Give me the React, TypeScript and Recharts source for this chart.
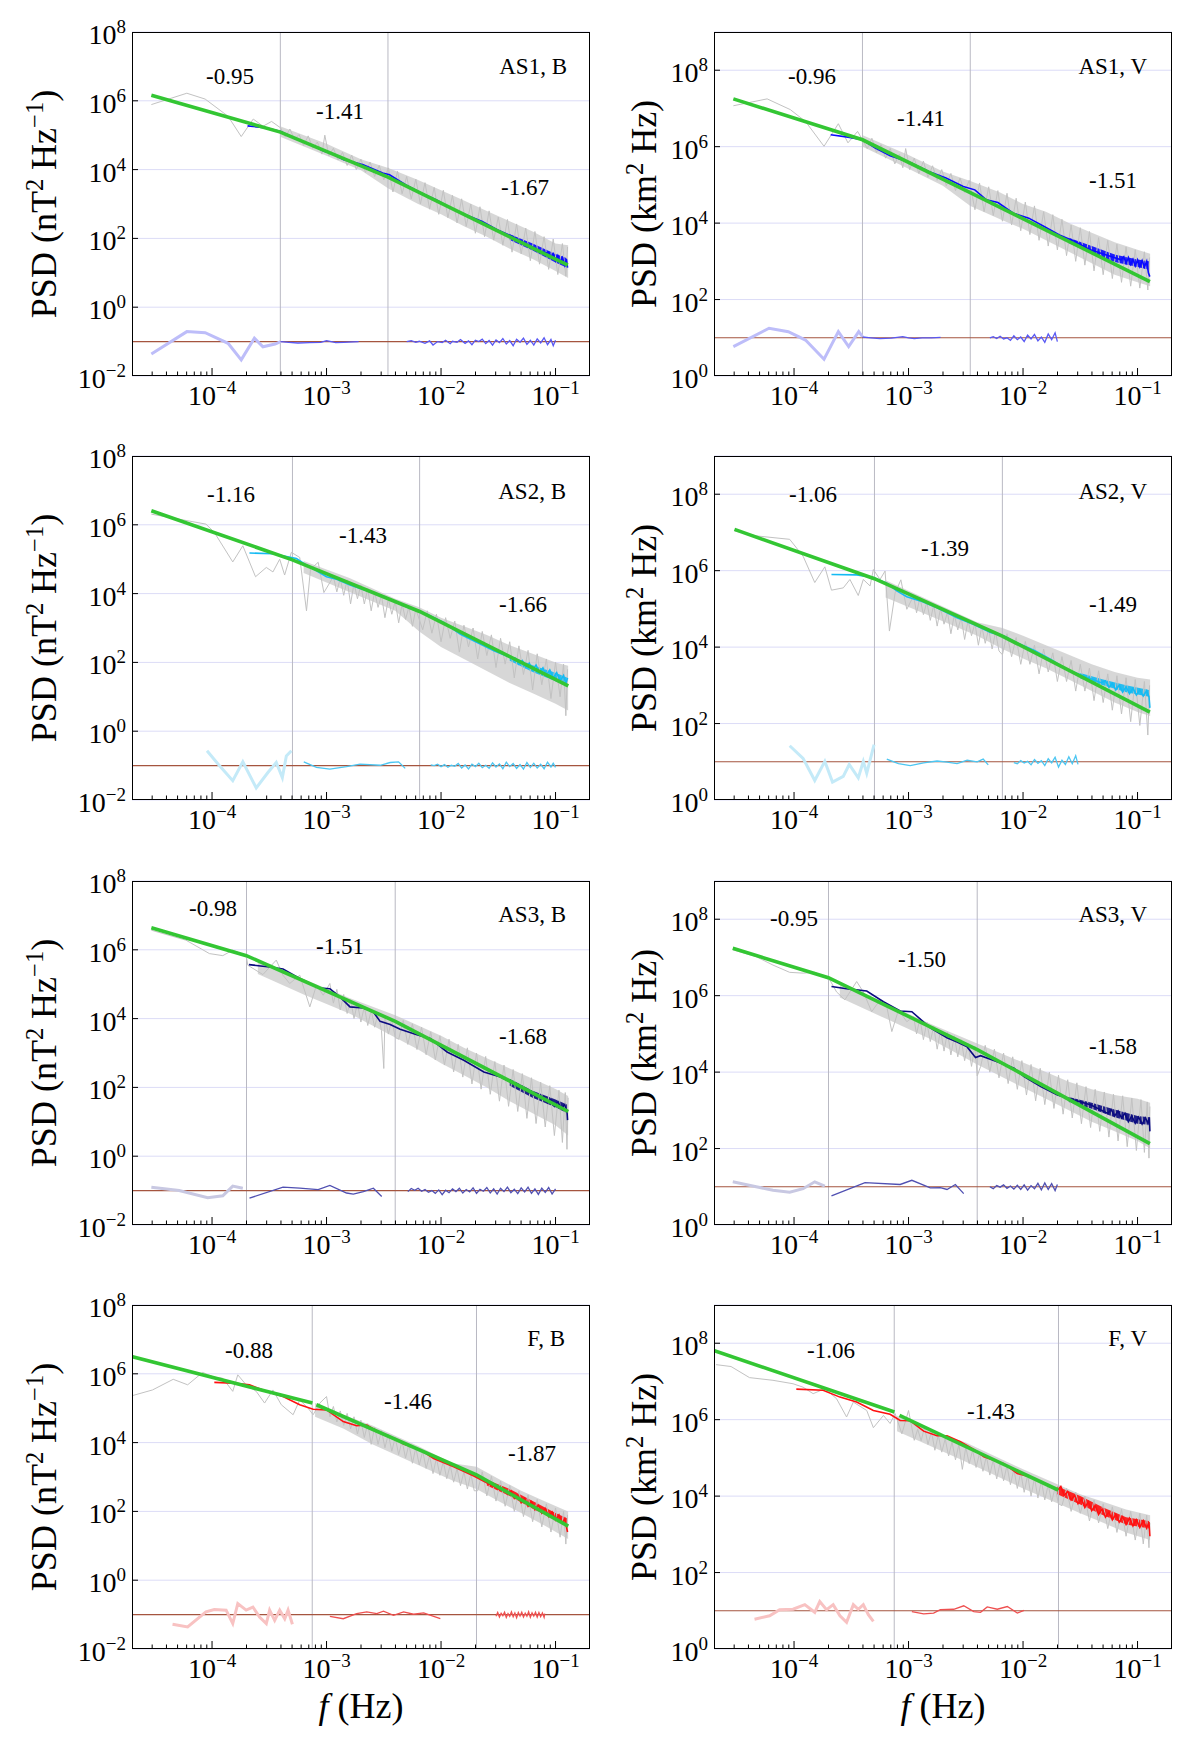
import React from 'react';
import { ComposedChart, Line, Area, XAxis, YAxis, CartesianGrid, ReferenceLine } from 'recharts';

// all series values are decades: [log10 f (Hz), log10 PSD]
type P = [number, number];
type B = [number, number, number]; // [log10 f, log10 low, log10 high]

// ---------- AS1, B ----------
const AS1B_FIT: P[] = [[-4.53, 6.16], [-3.403, 5.09], [-2.463, 3.78], [-0.893, 1.22]];
const AS1B_GRAY: P[] = [
  [-4.53, 5.89], [-4.22, 6.22], [-4.06, 6.05], [-3.86, 5.55], [-3.745, 4.96], [-3.64, 5.47], [-3.555, 5.26], [-3.48, 5.4], [-3.4, 5.21],
  [-3.36, 4.95], [-3.32, 5.18], [-3.28, 4.88], [-3.24, 5.02], [-3.2, 4.7], [-3.16, 4.98], [-3.12, 4.62], [-3.08, 4.8], [-3.04, 4.45],
  [-3.015, 5.0], [-2.98, 4.4], [-2.94, 4.62], [-2.9, 4.28], [-2.86, 4.5], [-2.82, 4.12], [-2.78, 4.42], [-2.74, 4.0], [-2.7, 4.3],
  [-2.66, 3.92], [-2.62, 4.22], [-2.58, 3.8], [-2.54, 4.12], [-2.5, 3.7], [-2.46, 4.05],
  [-2.42, 3.35], [-2.38, 3.95], [-2.34, 3.3], [-2.3, 3.8], [-2.26, 3.15], [-2.22, 3.72], [-2.18, 3.0], [-2.14, 3.62], [-2.1, 2.85],
  [-2.06, 3.48], [-2.02, 2.7], [-1.98, 3.4], [-1.94, 2.6], [-1.9, 3.25], [-1.86, 2.45], [-1.82, 3.15], [-1.78, 2.35], [-1.74, 3.0],
  [-1.7, 2.15], [-1.66, 2.92], [-1.62, 2.05], [-1.58, 2.8], [-1.54, 1.95], [-1.5, 2.62], [-1.46, 1.8], [-1.42, 2.55], [-1.38, 1.6],
  [-1.34, 2.42], [-1.3, 1.55], [-1.26, 2.3], [-1.22, 1.35], [-1.18, 2.2], [-1.14, 1.25], [-1.1, 2.05], [-1.06, 1.1], [-1.02, 1.98],
  [-0.98, 0.95], [-0.94, 1.85], [-0.91, 0.9], [-0.895, 1.75],
];
const AS1B_BAND: B[] = [
  [-3.4, 4.95, 5.25], [-3.0, 4.4, 4.75], [-2.7, 3.98, 4.3], [-2.46, 3.45, 4.05], [-2.2, 3.0, 3.7], [-2.0, 2.7, 3.4], [-1.8, 2.35, 3.1],
  [-1.6, 2.05, 2.8], [-1.4, 1.7, 2.5], [-1.2, 1.4, 2.2], [-1.0, 1.05, 1.85], [-0.89, 0.85, 1.8],
];
const AS1B_LINE: P[] = [
  [-3.69, 5.27], [-3.52, 5.21], [-3.4, 5.11], [-3.25, 4.87], [-3.12, 4.7], [-3.02, 4.53], [-2.95, 4.46], [-2.85, 4.29], [-2.68, 4.14],
  [-2.51, 3.9], [-2.45, 3.85], [-2.31, 3.56], [-2.18, 3.33], [-2.04, 3.12], [-1.91, 2.88], [-1.78, 2.68], [-1.64, 2.49], [-1.51, 2.25],
  [-1.37, 2.05], [-1.24, 1.81], [-1.1, 1.57], [-1.06, 1.6], [-1.04, 1.45], [-1.02, 1.55], [-1.0, 1.35], [-0.98, 1.5], [-0.96, 1.3],
  [-0.94, 1.44], [-0.92, 1.22], [-0.905, 1.4], [-0.895, 1.15],
];
const AS1B_LBAND: B[] = [[-1.4, 1.95, 2.12], [-1.2, 1.65, 1.85], [-1.0, 1.3, 1.55], [-0.9, 1.15, 1.42]];
const AS1B_C1: P[] = [[-4.53, -1.36], [-4.22, -0.71], [-4.06, -0.74], [-3.86, -1.05], [-3.745, -1.53], [-3.63, -0.9], [-3.555, -1.15], [-3.45, -1.07], [-3.4, -1.0]];
const AS1B_C2: P[] = [[-3.4, -1.0], [-3.33, -1.02], [-3.25, -1.04], [-3.15, -1.03], [-3.05, -1.02], [-3.0, -0.97], [-2.96, -1.0], [-2.92, -1.03], [-2.85, -1.02], [-2.72, -1.0]];
const AS1B_C3: P[] = [
  [-2.3, -1.0], [-2.26, -0.97], [-2.22, -1.02], [-2.19, -0.99], [-2.14, -1.05], [-2.1, -0.98], [-2.07, -1.1], [-2.03, -1.0], [-1.99, -1.03],
  [-1.96, -0.96], [-1.92, -1.06], [-1.9, -0.99], [-1.86, -1.02], [-1.83, -0.94], [-1.79, -1.05], [-1.76, -0.98], [-1.73, -1.09], [-1.7, -0.96],
  [-1.67, -1.0], [-1.64, -0.93], [-1.61, -1.06], [-1.58, -0.97], [-1.55, -1.1], [-1.52, -0.95], [-1.49, -1.03], [-1.46, -0.91], [-1.43, -1.07],
  [-1.4, -0.97], [-1.37, -1.12], [-1.34, -0.93], [-1.31, -1.02], [-1.28, -0.9], [-1.25, -1.08], [-1.22, -0.96], [-1.19, -1.1], [-1.16, -0.92],
  [-1.13, -1.04], [-1.1, -0.89], [-1.07, -1.09], [-1.04, -0.94], [-1.02, -1.12], [-1.0, -0.96],
];
const AS1B_BREAKS = [3.95e-4, 3.44e-3];
const AS1B_SLOPES = ['-0.95', '-1.41', '-1.67'];

// ---------- AS1, V ----------
const AS1V_FIT: P[] = [[-4.53, 7.25], [-3.402, 6.18], [-2.461, 4.8], [-0.892, 2.47]];
const AS1V_GRAY: P[] = [
  [-4.53, 7.07], [-4.235, 7.25], [-4.033, 6.97], [-3.9, 6.66], [-3.738, 6.01], [-3.613, 6.6], [-3.529, 6.1], [-3.445, 6.4], [-3.395, 6.14],
  [-3.36, 5.95], [-3.32, 6.22], [-3.28, 5.85], [-3.24, 6.05], [-3.2, 5.7], [-3.16, 5.95], [-3.12, 5.55], [-3.08, 5.8], [-3.05, 5.45],
  [-3.025, 5.95], [-2.99, 5.4], [-2.95, 5.7], [-2.91, 5.3], [-2.87, 5.62], [-2.83, 5.2], [-2.79, 5.5], [-2.75, 5.12], [-2.71, 5.4],
  [-2.67, 4.98], [-2.63, 5.3], [-2.59, 4.85], [-2.55, 5.18], [-2.51, 4.8], [-2.47, 5.12],
  [-2.42, 4.35], [-2.38, 5.05], [-2.34, 4.3], [-2.3, 4.95], [-2.26, 4.2], [-2.22, 4.85], [-2.18, 4.05], [-2.14, 4.78], [-2.1, 3.95],
  [-2.06, 4.65], [-2.02, 3.8], [-1.98, 4.55], [-1.94, 3.7], [-1.9, 4.45], [-1.86, 3.55], [-1.82, 4.3], [-1.78, 3.4], [-1.74, 4.22],
  [-1.7, 3.3], [-1.66, 4.1], [-1.62, 3.15], [-1.58, 3.95], [-1.54, 3.0], [-1.5, 3.88], [-1.46, 2.9], [-1.42, 3.78], [-1.38, 2.75],
  [-1.34, 3.62], [-1.3, 2.65], [-1.26, 3.55], [-1.22, 2.55], [-1.18, 3.45], [-1.14, 2.45], [-1.1, 3.38], [-1.06, 2.35], [-1.02, 3.3],
  [-0.98, 2.3], [-0.94, 3.25], [-0.91, 2.25], [-0.895, 3.1],
];
const AS1V_BAND: B[] = [
  [-3.4, 6.0, 6.3], [-3.0, 5.42, 5.78], [-2.7, 4.98, 5.35], [-2.46, 4.45, 5.1], [-2.2, 4.1, 4.8], [-2.0, 3.85, 4.5], [-1.8, 3.55, 4.3],
  [-1.6, 3.25, 4.0], [-1.4, 2.95, 3.75], [-1.2, 2.65, 3.5], [-1.0, 2.45, 3.3], [-0.89, 2.35, 3.2],
];
const AS1V_LINE: P[] = [
  [-3.68, 6.31], [-3.529, 6.25], [-3.402, 6.18], [-3.294, 5.97], [-3.16, 5.76], [-2.992, 5.59], [-2.824, 5.35], [-2.673, 5.18],
  [-2.522, 4.96], [-2.421, 4.87], [-2.32, 4.61], [-2.219, 4.54], [-2.085, 4.26], [-1.95, 4.13], [-1.816, 3.91], [-1.682, 3.69],
  [-1.548, 3.52], [-1.413, 3.3], [-1.279, 3.17], [-1.144, 3.04], [-1.12, 3.12], [-1.1, 2.95], [-1.08, 3.1], [-1.06, 2.92], [-1.04, 3.05],
  [-1.02, 2.88], [-1.0, 3.04], [-0.98, 2.86], [-0.96, 3.02], [-0.94, 2.85], [-0.92, 3.0], [-0.905, 2.7], [-0.893, 2.6],
];
const AS1V_LBAND: B[] = [[-1.6, 3.48, 3.62], [-1.4, 3.22, 3.4], [-1.2, 2.98, 3.18], [-1.0, 2.85, 3.05], [-0.9, 2.78, 3.0]];
const AS1V_C1: P[] = [[-4.53, 0.77], [-4.218, 1.25], [-4.05, 1.16], [-3.9, 0.94], [-3.738, 0.44], [-3.613, 1.16], [-3.523, 0.77], [-3.435, 1.16], [-3.402, 1.03]];
const AS1V_C2: P[] = [[-3.4, 1.02], [-3.33, 1.0], [-3.25, 0.98], [-3.15, 0.99], [-3.05, 1.03], [-3.0, 1.0], [-2.95, 0.98], [-2.88, 1.0], [-2.8, 1.0], [-2.72, 1.01]];
const AS1V_C3: P[] = [
  [-2.29, 1.0], [-2.26, 1.03], [-2.23, 0.98], [-2.2, 1.04], [-2.17, 0.97], [-2.14, 1.0], [-2.11, 0.93], [-2.08, 1.05], [-2.05, 0.95],
  [-2.02, 1.02], [-1.99, 0.9], [-1.96, 1.07], [-1.93, 0.97], [-1.9, 1.09], [-1.87, 0.92], [-1.84, 1.02], [-1.81, 0.88], [-1.78, 1.1],
  [-1.75, 0.95], [-1.72, 1.13], [-1.7, 0.9],
];
const AS1V_BREAKS = [3.96e-4, 3.46e-3];
const AS1V_SLOPES = ['-0.96', '-1.41', '-1.51'];

// ---------- AS2, B ----------
const AS2B_FIT: P[] = [[-4.53, 6.41], [-3.298, 4.98], [-2.187, 3.48], [-0.889, 1.32]];
const AS2B_GRAY: P[] = [
  [-4.53, 6.31], [-4.053, 6.02], [-3.98, 5.78], [-3.819, 4.92], [-3.731, 5.39], [-3.62, 4.49], [-3.526, 4.76], [-3.468, 4.63], [-3.409, 5.0],
  [-3.366, 4.54], [-3.307, 5.2], [-3.234, 5.05], [-3.175, 3.5], [-3.14, 4.71], [-3.073, 4.91], [-3.023, 4.03], [-2.971, 4.32],
  [-2.94, 4.5], [-2.91, 4.05], [-2.88, 4.45], [-2.85, 3.95], [-2.82, 4.4], [-2.79, 3.7], [-2.76, 4.3], [-2.73, 3.85], [-2.7, 4.25],
  [-2.67, 3.7], [-2.64, 4.15], [-2.61, 3.5], [-2.58, 4.05], [-2.55, 3.6], [-2.52, 3.95], [-2.49, 3.3], [-2.46, 3.85], [-2.43, 3.4],
  [-2.4, 3.78], [-2.37, 3.15], [-2.34, 3.7], [-2.31, 3.25], [-2.28, 3.62], [-2.25, 3.05], [-2.22, 3.55],
  [-2.16, 2.95], [-2.12, 3.5], [-2.08, 2.85], [-2.04, 3.4], [-2.0, 2.6], [-1.96, 3.3], [-1.92, 2.7], [-1.88, 3.2], [-1.84, 2.3],
  [-1.8, 3.08], [-1.76, 2.45], [-1.72, 3.0], [-1.68, 2.1], [-1.64, 2.9], [-1.6, 2.2], [-1.56, 2.8], [-1.52, 1.85], [-1.48, 2.7],
  [-1.44, 1.95], [-1.4, 2.6], [-1.36, 1.55], [-1.32, 2.48], [-1.28, 1.65], [-1.24, 2.35], [-1.2, 1.2], [-1.16, 2.25], [-1.12, 1.35],
  [-1.08, 2.1], [-1.04, 0.95], [-1.0, 2.0], [-0.96, 1.0], [-0.93, 1.95], [-0.91, 0.45], [-0.895, 1.8],
];
const AS2B_BAND: B[] = [
  [-3.2, 4.6, 4.95], [-2.8, 4.05, 4.45], [-2.4, 3.5, 3.85], [-2.19, 2.9, 3.6], [-2.0, 2.45, 3.3], [-1.8, 2.1, 3.05], [-1.6, 1.75, 2.8],
  [-1.4, 1.4, 2.5], [-1.2, 1.1, 2.25], [-1.0, 0.8, 2.0], [-0.89, 0.6, 1.9],
];
const AS2B_LINE: P[] = [
  [-3.673, 5.18], [-3.468, 5.16], [-3.351, 5.08], [-3.263, 5.02], [-3.175, 4.83], [-3.088, 4.66], [-3.0, 4.49], [-2.912, 4.42],
  [-2.795, 4.25], [-2.649, 4.08], [-2.503, 3.92], [-2.357, 3.69], [-2.24, 3.53], [-2.123, 3.4], [-1.977, 3.16], [-1.83, 2.82],
  [-1.684, 2.58], [-1.538, 2.34], [-1.392, 2.14], [-1.35, 2.12], [-1.32, 1.95], [-1.29, 2.05], [-1.26, 1.86], [-1.23, 1.98], [-1.2, 1.78],
  [-1.17, 1.92], [-1.14, 1.7], [-1.11, 1.84], [-1.08, 1.62], [-1.05, 1.78], [-1.02, 1.55], [-0.99, 1.7], [-0.96, 1.46], [-0.93, 1.62],
  [-0.91, 1.38], [-0.895, 1.55],
];
const AS2B_LBAND: B[] = [[-1.4, 2.05, 2.2], [-1.2, 1.72, 1.92], [-1.0, 1.45, 1.7], [-0.9, 1.3, 1.56]];
const AS2B_C1: P[] = [[-4.044, -0.57], [-3.936, -1.0], [-3.819, -1.44], [-3.731, -0.89], [-3.614, -1.65], [-3.512, -1.2], [-3.439, -0.91], [-3.386, -1.35], [-3.351, -0.72], [-3.307, -0.57]];
const AS2B_C2: P[] = [[-3.199, -0.89], [-3.088, -1.05], [-2.971, -1.1], [-2.825, -1.03], [-2.708, -0.96], [-2.532, -0.99], [-2.444, -0.91], [-2.371, -0.89], [-2.313, -1.08]];
const AS2B_C3: P[] = [
  [-2.09, -0.98], [-2.06, -1.0], [-2.03, -0.96], [-2.0, -1.03], [-1.97, -0.97], [-1.94, -1.05], [-1.91, -0.99], [-1.88, -1.02], [-1.85, -0.94],
  [-1.82, -1.07], [-1.79, -0.98], [-1.76, -1.1], [-1.73, -0.96], [-1.7, -1.03], [-1.67, -0.93], [-1.64, -1.06], [-1.61, -0.99], [-1.58, -1.08],
  [-1.55, -0.92], [-1.52, -1.04], [-1.49, -0.95], [-1.46, -1.09], [-1.43, -0.9], [-1.4, -1.03], [-1.37, -0.94], [-1.34, -1.08], [-1.31, -0.97],
  [-1.28, -1.1], [-1.25, -0.91], [-1.22, -1.05], [-1.19, -0.93], [-1.16, -1.07], [-1.13, -0.96], [-1.1, -1.09], [-1.07, -0.9], [-1.04, -1.04],
  [-1.02, -0.93], [-1.0, -1.05],
];
const AS2B_BREAKS = [5.04e-4, 6.5e-3];
const AS2B_SLOPES = ['-1.16', '-1.43', '-1.66'];

// ---------- AS2, V ----------
const AS2V_FIT: P[] = [[-4.52, 7.08], [-3.298, 5.79], [-2.181, 4.29], [-0.892, 2.3]];
const AS2V_GRAY: P[] = [
  [-4.52, 7.04], [-4.33, 6.91], [-4.038, 6.82], [-3.921, 6.38], [-3.819, 5.69], [-3.731, 6.1], [-3.673, 5.49], [-3.57, 5.55], [-3.512, 5.77],
  [-3.439, 5.35], [-3.395, 5.77], [-3.336, 5.6], [-3.307, 6.03], [-3.249, 5.77], [-3.205, 5.99], [-3.167, 4.42], [-3.117, 5.42],
  [-3.067, 5.76], [-3.015, 4.99], [-2.956, 5.34],
  [-2.93, 4.9], [-2.9, 5.3], [-2.87, 4.85], [-2.84, 5.18], [-2.81, 4.7], [-2.78, 5.1], [-2.75, 4.55], [-2.72, 5.02], [-2.69, 4.6],
  [-2.66, 4.92], [-2.63, 4.35], [-2.6, 4.85], [-2.57, 4.45], [-2.54, 4.78], [-2.51, 4.2], [-2.48, 4.7], [-2.45, 4.3], [-2.42, 4.62],
  [-2.39, 4.05], [-2.36, 4.55], [-2.33, 4.1], [-2.3, 4.48], [-2.27, 3.95], [-2.24, 4.4], [-2.21, 3.9],
  [-2.18, 3.8], [-2.14, 4.35], [-2.1, 3.75], [-2.06, 4.25], [-2.02, 3.55], [-1.98, 4.15], [-1.94, 3.55], [-1.9, 4.05], [-1.86, 3.3],
  [-1.82, 3.95], [-1.78, 3.35], [-1.74, 3.85], [-1.7, 3.1], [-1.66, 3.75], [-1.62, 3.1], [-1.58, 3.65], [-1.54, 2.85], [-1.5, 3.55],
  [-1.46, 2.85], [-1.42, 3.45], [-1.38, 2.6], [-1.34, 3.38], [-1.3, 2.55], [-1.26, 3.3], [-1.22, 2.35], [-1.18, 3.25], [-1.14, 2.25],
  [-1.1, 3.2], [-1.06, 2.05], [-1.02, 3.15], [-0.98, 1.95], [-0.94, 3.1], [-0.91, 1.7], [-0.895, 3.0],
];
const AS2V_BAND: B[] = [
  [-3.2, 5.3, 5.75], [-2.8, 4.8, 5.2], [-2.4, 4.3, 4.65], [-2.18, 3.95, 4.5], [-2.0, 3.7, 4.3], [-1.8, 3.45, 4.05], [-1.6, 3.15, 3.8],
  [-1.4, 2.85, 3.55], [-1.2, 2.55, 3.35], [-1.0, 2.3, 3.2], [-0.89, 2.2, 3.15],
];
const AS2V_LINE: P[] = [
  [-3.673, 5.9], [-3.453, 5.89], [-3.307, 5.82], [-3.19, 5.67], [-3.102, 5.47], [-3.015, 5.32], [-2.898, 5.21], [-2.751, 5.03],
  [-2.576, 4.77], [-2.43, 4.59], [-2.284, 4.38], [-2.167, 4.29], [-2.05, 4.11], [-1.904, 3.92], [-1.757, 3.68], [-1.611, 3.41],
  [-1.465, 3.24], [-1.319, 3.07], [-1.28, 3.12], [-1.25, 2.95], [-1.22, 3.05], [-1.19, 2.88], [-1.16, 3.0], [-1.13, 2.82], [-1.1, 2.96],
  [-1.07, 2.78], [-1.04, 2.92], [-1.01, 2.75], [-0.98, 2.88], [-0.95, 2.72], [-0.92, 2.86], [-0.9, 2.7], [-0.892, 2.41],
];
const AS2V_LBAND: B[] = [[-1.5, 3.18, 3.32], [-1.3, 3.0, 3.15], [-1.1, 2.82, 3.0], [-0.9, 2.7, 2.88]];
const AS2V_C1: P[] = [[-4.038, 1.42], [-3.921, 1.09], [-3.819, 0.51], [-3.731, 1.01], [-3.664, 0.47], [-3.57, 0.62], [-3.518, 0.93], [-3.439, 0.58], [-3.395, 1.01], [-3.365, 0.7], [-3.301, 1.45]];
const AS2V_C2: P[] = [[-3.19, 1.07], [-3.088, 0.95], [-2.985, 0.9], [-2.868, 0.97], [-2.751, 1.02], [-2.664, 0.99], [-2.576, 0.95], [-2.488, 1.04], [-2.401, 1.0], [-2.348, 1.07], [-2.304, 0.92]];
const AS2V_C3: P[] = [
  [-2.08, 0.98], [-2.05, 0.95], [-2.02, 1.03], [-1.99, 0.97], [-1.96, 1.01], [-1.93, 0.92], [-1.9, 1.06], [-1.87, 0.96], [-1.84, 1.03],
  [-1.81, 0.9], [-1.78, 1.08], [-1.75, 0.97], [-1.72, 1.12], [-1.69, 0.86], [-1.66, 1.04], [-1.63, 0.93], [-1.6, 1.13], [-1.57, 0.95],
  [-1.54, 1.16], [-1.52, 0.93],
];
const AS2V_BREAKS = [5.04e-4, 6.6e-3];
const AS2V_SLOPES = ['-1.06', '-1.39', '-1.49'];

// ---------- AS3, B ----------
const AS3B_FIT: P[] = [[-4.53, 6.64], [-3.7, 5.83], [-2.4, 3.92], [-0.889, 1.3]];
const AS3B_GRAY: P[] = [
  [-4.53, 6.57], [-4.228, 6.28], [-4.023, 5.89], [-3.906, 5.83], [-3.819, 5.99], [-3.702, 5.83], [-3.687, 5.55], [-3.556, 5.28],
  [-3.439, 5.7], [-3.38, 5.26], [-3.322, 5.02], [-3.234, 5.26], [-3.146, 4.34], [-3.088, 4.97], [-3.029, 4.68], [-2.971, 5.02],
  [-2.94, 4.45], [-2.91, 4.85], [-2.88, 4.25], [-2.85, 4.7], [-2.82, 4.15], [-2.79, 4.55], [-2.76, 4.0], [-2.73, 4.45], [-2.7, 3.9],
  [-2.67, 4.35], [-2.64, 3.8], [-2.61, 4.25], [-2.58, 3.75], [-2.55, 4.15], [-2.52, 3.65], [-2.5, 2.55], [-2.49, 4.05], [-2.46, 3.55],
  [-2.43, 3.98], [-2.4, 3.45],
  [-2.37, 3.4], [-2.33, 3.95], [-2.29, 3.25], [-2.25, 3.85], [-2.21, 3.1], [-2.17, 3.75], [-2.13, 2.95], [-2.09, 3.62], [-2.05, 2.8],
  [-2.01, 3.5], [-1.97, 2.65], [-1.93, 3.4], [-1.89, 2.45], [-1.85, 3.25], [-1.81, 2.3], [-1.77, 3.15], [-1.73, 2.1], [-1.69, 3.0],
  [-1.65, 1.95], [-1.61, 2.9], [-1.57, 1.8], [-1.53, 2.75], [-1.49, 1.6], [-1.45, 2.65], [-1.41, 1.45], [-1.37, 2.52], [-1.33, 1.3],
  [-1.29, 2.4], [-1.25, 1.1], [-1.21, 2.28], [-1.17, 0.95], [-1.13, 2.15], [-1.09, 0.85], [-1.05, 2.05], [-1.01, 0.6], [-0.97, 1.92],
  [-0.94, 0.4], [-0.915, 1.85], [-0.9, 0.2], [-0.89, 1.7],
];
const AS3B_BAND: B[] = [
  [-3.6, 5.3, 5.7], [-3.2, 4.7, 5.15], [-2.8, 4.15, 4.6], [-2.4, 3.45, 4.1], [-2.2, 3.1, 3.8], [-2.0, 2.7, 3.5], [-1.8, 2.35, 3.15],
  [-1.6, 2.0, 2.85], [-1.4, 1.6, 2.55], [-1.2, 1.25, 2.25], [-1.0, 0.9, 1.95], [-0.89, 0.6, 1.75],
];
const AS3B_LINE: P[] = [
  [-3.678, 5.57], [-3.497, 5.5], [-3.38, 5.44], [-3.234, 5.17], [-3.058, 4.89], [-2.971, 4.87], [-2.883, 4.63], [-2.795, 4.34],
  [-2.678, 4.31], [-2.591, 4.19], [-2.532, 3.92], [-2.444, 3.83], [-2.357, 3.69], [-2.211, 3.53], [-2.094, 3.42], [-1.947, 3.03],
  [-1.801, 2.79], [-1.626, 2.45], [-1.48, 2.3], [-1.333, 2.06], [-1.187, 1.77], [-1.1, 1.72], [-1.07, 1.55], [-1.04, 1.66], [-1.01, 1.45],
  [-0.98, 1.58], [-0.95, 1.38], [-0.92, 1.5], [-0.9, 1.3], [-0.895, 1.05],
];
const AS3B_LBAND: B[] = [[-1.4, 2.05, 2.25], [-1.2, 1.7, 1.9], [-1.0, 1.42, 1.65], [-0.9, 1.25, 1.5]];
const AS3B_C1: P[] = [[-4.53, -0.9], [-4.287, -1.0], [-4.038, -1.21], [-3.906, -1.15], [-3.819, -0.87], [-3.731, -0.93]];
const AS3B_C2: P[] = [[-3.673, -1.22], [-3.38, -0.9], [-3.234, -0.93], [-3.073, -0.97], [-2.971, -0.85], [-2.825, -1.07], [-2.766, -1.1], [-2.678, -1.03], [-2.591, -0.93], [-2.518, -1.17]];
const AS3B_C3: P[] = [
  [-2.29, -1.03], [-2.26, -0.94], [-2.23, -0.99], [-2.2, -0.93], [-2.17, -1.02], [-2.14, -0.97], [-2.11, -1.05], [-2.08, -1.0], [-2.05, -1.08],
  [-2.02, -0.98], [-1.99, -1.12], [-1.96, -0.99], [-1.93, -1.06], [-1.9, -0.95], [-1.87, -1.03], [-1.84, -0.93], [-1.81, -1.07], [-1.78, -0.97],
  [-1.75, -1.04], [-1.72, -0.92], [-1.69, -1.08], [-1.66, -0.96], [-1.63, -1.02], [-1.6, -0.91], [-1.57, -1.07], [-1.54, -0.95], [-1.51, -1.1],
  [-1.48, -0.93], [-1.45, -1.03], [-1.42, -0.9], [-1.39, -1.06], [-1.36, -0.96], [-1.33, -1.09], [-1.3, -0.92], [-1.27, -1.04], [-1.24, -0.9],
  [-1.21, -1.08], [-1.18, -0.95], [-1.15, -1.11], [-1.12, -0.93], [-1.09, -1.05], [-1.06, -0.91], [-1.03, -1.1], [-1.0, -0.95],
];
const AS3B_BREAKS = [2.0e-4, 3.98e-3];
const AS3B_SLOPES = ['-0.98', '-1.51', '-1.68'];

// ---------- AS3, V ----------
const AS3V_FIT: P[] = [[-4.535, 7.24], [-3.7, 6.47], [-2.4, 4.59], [-0.892, 2.13]];
const AS3V_GRAY: P[] = [
  [-4.535, 7.2], [-4.33, 7.02], [-4.184, 6.8], [-4.038, 6.61], [-3.921, 6.59], [-3.819, 6.61], [-3.746, 6.5], [-3.687, 6.41],
  [-3.629, 6.1], [-3.556, 5.89], [-3.453, 6.37], [-3.395, 6.1], [-3.322, 5.58], [-3.249, 5.89], [-3.19, 5.71], [-3.146, 5.06],
  [-3.088, 5.62], [-3.015, 5.32], [-2.956, 5.45],
  [-2.93, 5.0], [-2.9, 5.4], [-2.87, 4.85], [-2.84, 5.3], [-2.81, 4.8], [-2.78, 5.2], [-2.75, 4.6], [-2.72, 5.1], [-2.69, 4.55],
  [-2.66, 5.05], [-2.63, 4.45], [-2.6, 4.95], [-2.57, 4.4], [-2.54, 4.85], [-2.51, 4.3], [-2.48, 4.75], [-2.45, 4.15], [-2.42, 4.68],
  [-2.4, 3.9],
  [-2.37, 4.15], [-2.33, 4.7], [-2.29, 4.0], [-2.25, 4.6], [-2.21, 3.85], [-2.17, 4.5], [-2.13, 3.7], [-2.09, 4.4], [-2.05, 3.55],
  [-2.01, 4.3], [-1.97, 3.4], [-1.93, 4.2], [-1.89, 3.25], [-1.85, 4.1], [-1.81, 3.15], [-1.77, 4.0], [-1.73, 3.05], [-1.69, 3.92],
  [-1.65, 2.9], [-1.61, 3.8], [-1.57, 2.8], [-1.53, 3.72], [-1.49, 2.65], [-1.45, 3.62], [-1.41, 2.55], [-1.37, 3.55], [-1.33, 2.45],
  [-1.29, 3.48], [-1.25, 2.3], [-1.21, 3.42], [-1.17, 2.2], [-1.13, 3.38], [-1.09, 2.05], [-1.05, 3.32], [-1.01, 1.95], [-0.97, 3.28],
  [-0.94, 1.9], [-0.915, 3.22], [-0.9, 1.75], [-0.892, 3.1],
];
const AS3V_BAND: B[] = [
  [-3.6, 5.95, 6.35], [-3.2, 5.4, 5.8], [-2.8, 4.85, 5.25], [-2.4, 4.2, 4.75], [-2.2, 3.9, 4.5], [-2.0, 3.6, 4.25], [-1.8, 3.3, 4.0],
  [-1.6, 3.0, 3.75], [-1.4, 2.7, 3.55], [-1.2, 2.45, 3.4], [-1.0, 2.2, 3.3], [-0.89, 2.0, 3.2],
];
const AS3V_LINE: P[] = [
  [-3.673, 6.24], [-3.512, 6.17], [-3.365, 6.12], [-3.219, 5.84], [-3.073, 5.6], [-2.971, 5.58], [-2.81, 5.16], [-2.664, 4.9],
  [-2.576, 4.79], [-2.488, 4.66], [-2.415, 4.38], [-2.371, 4.43], [-2.225, 4.27], [-2.079, 4.1], [-1.991, 3.88], [-1.845, 3.62],
  [-1.699, 3.4], [-1.553, 3.27], [-1.406, 3.14], [-1.26, 2.92], [-1.23, 3.02], [-1.2, 2.85], [-1.17, 2.98], [-1.14, 2.8], [-1.11, 2.92],
  [-1.08, 2.7], [-1.05, 2.85], [-1.02, 2.66], [-0.99, 2.82], [-0.96, 2.64], [-0.93, 2.8], [-0.91, 2.66], [-0.897, 2.82], [-0.892, 2.45],
];
const AS3V_LBAND: B[] = [[-1.6, 3.22, 3.35], [-1.4, 3.04, 3.2], [-1.2, 2.82, 3.02], [-1.0, 2.65, 2.85], [-0.9, 2.62, 2.82]];
const AS3V_C1: P[] = [[-4.535, 1.13], [-4.33, 1.0], [-4.184, 0.91], [-4.038, 0.86], [-3.921, 0.95], [-3.819, 1.13], [-3.731, 1.02]];
const AS3V_C2: P[] = [[-3.673, 0.76], [-3.38, 1.11], [-3.073, 1.06], [-2.971, 1.17], [-2.81, 0.97], [-2.722, 0.98], [-2.664, 0.93], [-2.591, 1.06], [-2.518, 0.82]];
const AS3V_C3: P[] = [
  [-2.29, 1.0], [-2.26, 0.95], [-2.23, 1.03], [-2.2, 0.99], [-2.17, 1.05], [-2.14, 0.96], [-2.11, 1.02], [-2.08, 0.94], [-2.05, 1.04],
  [-2.02, 0.93], [-1.99, 1.05], [-1.96, 0.91], [-1.93, 1.03], [-1.9, 0.95], [-1.87, 1.09], [-1.84, 0.92], [-1.81, 1.1], [-1.78, 0.93],
  [-1.75, 1.08], [-1.72, 0.9], [-1.7, 1.06],
];
const AS3V_BREAKS = [2.0e-4, 3.98e-3];
const AS3V_SLOPES = ['-0.95', '-1.50', '-1.58'];

// ---------- F, B ----------
const FB_FIT1: P[] = [[-4.702, 6.5], [-3.123, 5.15]];
const FB_FIT2: P[] = [[-3.088, 5.1], [-1.69, 3.06], [-0.889, 1.57]];
const FB_GRAY: P[] = [
  [-4.702, 5.36], [-4.52, 5.53], [-4.339, 5.84], [-4.213, 5.68], [-4.082, 6.04], [-3.98, 5.9], [-3.906, 5.87], [-3.819, 5.49],
  [-3.775, 5.97], [-3.702, 5.68], [-3.614, 5.49], [-3.541, 5.15], [-3.468, 5.53], [-3.395, 5.1], [-3.292, 4.81], [-3.234, 5.24],
  [-3.161, 5.0], [-3.117, 4.81], [-3.058, 5.15], [-3.0, 5.34],
  [-2.97, 4.75], [-2.94, 5.05], [-2.91, 4.6], [-2.88, 4.92], [-2.85, 4.5], [-2.82, 4.85], [-2.79, 4.4], [-2.76, 4.75], [-2.73, 4.25],
  [-2.7, 4.65], [-2.67, 4.15], [-2.64, 4.55], [-2.61, 3.95], [-2.58, 4.45], [-2.55, 3.95], [-2.52, 4.35], [-2.49, 3.85], [-2.46, 4.25],
  [-2.43, 3.75], [-2.4, 4.15], [-2.37, 3.65], [-2.34, 4.05], [-2.31, 3.55], [-2.28, 3.95], [-2.25, 3.4], [-2.22, 3.85], [-2.19, 3.35],
  [-2.16, 3.75], [-2.13, 3.25], [-2.1, 3.62], [-2.07, 3.1], [-2.04, 3.55], [-2.01, 3.05], [-1.98, 3.45], [-1.95, 2.95], [-1.92, 3.35],
  [-1.89, 2.85], [-1.86, 3.25], [-1.83, 2.75], [-1.8, 3.15], [-1.77, 2.65], [-1.74, 3.1], [-1.71, 2.6],
  [-1.68, 2.6], [-1.64, 3.15], [-1.6, 2.45], [-1.56, 3.02], [-1.52, 2.3], [-1.48, 2.88], [-1.44, 2.15], [-1.4, 2.75], [-1.36, 2.0],
  [-1.32, 2.6], [-1.28, 1.85], [-1.24, 2.48], [-1.2, 1.7], [-1.16, 2.35], [-1.12, 1.55], [-1.08, 2.22], [-1.04, 1.4], [-1.0, 2.1],
  [-0.96, 1.25], [-0.93, 2.0], [-0.91, 1.05], [-0.895, 1.9],
];
const FB_BAND: B[] = [
  [-3.1, 4.75, 5.15], [-2.85, 4.4, 4.8], [-2.6, 3.95, 4.5], [-2.2, 3.35, 3.9], [-1.9, 2.9, 3.4], [-1.69, 2.65, 3.3], [-1.5, 2.3, 2.95],
  [-1.3, 1.95, 2.6], [-1.1, 1.6, 2.3], [-0.89, 1.2, 2.0],
];
const FB_LINE: P[] = [
  [-3.98, 5.75], [-3.819, 5.73], [-3.673, 5.68], [-3.526, 5.49], [-3.38, 5.34], [-3.234, 5.1], [-3.117, 4.97], [-3.0, 4.95],
  [-2.854, 4.61], [-2.737, 4.49], [-2.649, 4.51], [-2.532, 4.29], [-2.415, 4.13], [-2.327, 3.96], [-2.181, 3.79], [-2.064, 3.54],
  [-1.889, 3.3], [-1.713, 3.03], [-1.48, 2.62], [-1.45, 2.68], [-1.42, 2.5], [-1.39, 2.6], [-1.36, 2.38], [-1.33, 2.48], [-1.3, 2.25],
  [-1.27, 2.38], [-1.24, 2.15], [-1.21, 2.28], [-1.18, 2.05], [-1.15, 2.18], [-1.12, 1.95], [-1.09, 2.08], [-1.06, 1.85], [-1.03, 1.98],
  [-1.0, 1.75], [-0.97, 1.9], [-0.94, 1.65], [-0.92, 1.78], [-0.895, 1.4],
];
const FB_LBAND: B[] = [[-1.6, 2.75, 2.92], [-1.4, 2.45, 2.65], [-1.2, 2.08, 2.3], [-1.0, 1.75, 1.95], [-0.9, 1.6, 1.8]];
const FB_C1: P[] = [
  [-4.345, -1.28], [-4.213, -1.36], [-4.053, -0.92], [-3.98, -0.85], [-3.877, -0.87], [-3.819, -1.26], [-3.775, -0.68], [-3.702, -0.87],
  [-3.643, -0.78], [-3.585, -1.07], [-3.526, -1.26], [-3.497, -0.87], [-3.453, -1.17], [-3.409, -0.87], [-3.365, -1.12], [-3.336, -0.87], [-3.298, -1.28],
];
const FB_C2: P[] = [[-2.971, -1.05], [-2.854, -1.12], [-2.737, -0.97], [-2.649, -0.92], [-2.561, -0.97], [-2.503, -0.9], [-2.415, -1.02], [-2.327, -0.92], [-2.24, -0.99], [-2.152, -0.95], [-2.064, -1.05], [-2.006, -1.12]];
const FB_C3: P[] = [
  [-1.52, -1.05], [-1.505, -0.94], [-1.49, -1.07], [-1.475, -0.96], [-1.46, -1.03], [-1.445, -0.93], [-1.43, -1.08], [-1.415, -0.97],
  [-1.4, -1.05], [-1.385, -0.92], [-1.37, -1.06], [-1.355, -0.95], [-1.34, -1.09], [-1.325, -0.94], [-1.31, -1.04], [-1.295, -0.93],
  [-1.28, -1.07], [-1.265, -0.96], [-1.25, -1.05], [-1.235, -0.92], [-1.22, -1.08], [-1.205, -0.95], [-1.19, -1.04], [-1.175, -0.93],
  [-1.16, -1.07], [-1.145, -0.94], [-1.13, -1.06], [-1.115, -0.95], [-1.1, -1.08], [-1.094, -0.97],
];
const FB_BREAKS = [7.5e-4, 2.04e-2];
const FB_SLOPES = ['-0.88', '-1.46', '-1.87'];

// ---------- F, V ----------
const FV_FIT1: P[] = [[-4.702, 7.81], [-3.123, 6.2]];
const FV_FIT2: P[] = [[-3.079, 6.11], [-1.693, 4.16]];
const FV_GRAY: P[] = [
  [-4.681, 7.44], [-4.55, 7.39], [-4.389, 7.1], [-4.184, 7.03], [-4.009, 6.94], [-3.921, 6.85], [-3.833, 6.68], [-3.731, 6.81],
  [-3.629, 6.55], [-3.541, 6.07], [-3.482, 6.46], [-3.365, 6.24], [-3.307, 5.79], [-3.219, 6.11], [-3.161, 5.9], [-3.117, 6.16],
  [-3.058, 5.63], [-3.0, 6.24], [-2.95, 5.46],
  [-2.92, 5.75], [-2.89, 5.45], [-2.86, 5.8], [-2.83, 5.35], [-2.8, 5.7], [-2.77, 5.2], [-2.74, 5.6], [-2.71, 5.15], [-2.68, 5.5],
  [-2.65, 5.05], [-2.62, 5.42], [-2.59, 4.95], [-2.56, 5.35], [-2.53, 4.7], [-2.5, 5.28], [-2.47, 4.85], [-2.44, 5.2], [-2.41, 4.75],
  [-2.38, 5.12], [-2.35, 4.65], [-2.32, 5.05], [-2.29, 4.55], [-2.26, 4.95], [-2.23, 4.45], [-2.2, 4.88], [-2.17, 4.4], [-2.14, 4.8],
  [-2.11, 4.3], [-2.08, 4.7], [-2.05, 4.2], [-2.02, 4.62], [-1.99, 4.1], [-1.96, 4.55], [-1.93, 4.0], [-1.9, 4.48], [-1.87, 3.95],
  [-1.84, 4.4], [-1.81, 3.9], [-1.78, 4.3], [-1.75, 3.85], [-1.72, 4.22], [-1.69, 3.8],
  [-1.66, 3.75], [-1.62, 4.2], [-1.58, 3.6], [-1.54, 4.1], [-1.5, 3.55], [-1.46, 4.0], [-1.42, 3.35], [-1.38, 3.9], [-1.34, 3.3],
  [-1.3, 3.8], [-1.26, 3.15], [-1.22, 3.72], [-1.18, 3.05], [-1.14, 3.65], [-1.1, 2.95], [-1.06, 3.6], [-1.02, 2.85], [-0.98, 3.55],
  [-0.95, 2.75], [-0.92, 3.5], [-0.9, 2.65], [-0.892, 3.3],
];
const FV_BAND: B[] = [
  [-3.1, 5.7, 6.1], [-2.8, 5.3, 5.7], [-2.5, 4.9, 5.4], [-2.0, 4.2, 4.7], [-1.69, 3.8, 4.3], [-1.5, 3.55, 4.05], [-1.3, 3.3, 3.85],
  [-1.1, 3.05, 3.65], [-0.89, 2.85, 3.5],
];
const FV_LINE: P[] = [
  [-3.98, 6.8], [-3.746, 6.77], [-3.599, 6.59], [-3.453, 6.46], [-3.307, 6.24], [-3.161, 6.14], [-3.073, 5.98], [-2.985, 5.97],
  [-2.868, 5.7], [-2.751, 5.58], [-2.664, 5.58], [-2.547, 5.42], [-2.43, 5.22], [-2.342, 5.03], [-2.167, 4.85], [-2.05, 4.59],
  [-1.933, 4.5], [-1.816, 4.33], [-1.699, 4.16], [-1.67, 4.25], [-1.64, 4.02], [-1.61, 4.12], [-1.58, 3.9], [-1.55, 4.02], [-1.52, 3.8],
  [-1.49, 3.92], [-1.46, 3.7], [-1.43, 3.85], [-1.4, 3.62], [-1.37, 3.75], [-1.34, 3.52], [-1.31, 3.66], [-1.28, 3.45], [-1.25, 3.58],
  [-1.22, 3.38], [-1.19, 3.52], [-1.16, 3.32], [-1.13, 3.46], [-1.1, 3.26], [-1.07, 3.42], [-1.04, 3.22], [-1.01, 3.38], [-0.98, 3.18],
  [-0.95, 3.36], [-0.92, 3.16], [-0.9, 3.32], [-0.892, 2.95],
];
const FV_LBAND: B[] = [[-1.7, 4.05, 4.25], [-1.5, 3.78, 4.0], [-1.3, 3.5, 3.7], [-1.1, 3.26, 3.45], [-0.9, 3.15, 3.35]];
const FV_C1: P[] = [
  [-4.345, 0.78], [-4.213, 0.87], [-4.126, 1.03], [-4.009, 1.04], [-3.906, 1.16], [-3.819, 0.96], [-3.775, 1.24], [-3.716, 1.03],
  [-3.658, 1.16], [-3.599, 0.87], [-3.541, 0.7], [-3.482, 1.16], [-3.439, 1.04], [-3.395, 1.16], [-3.351, 0.9], [-3.307, 0.72],
];
const FV_C2: P[] = [[-2.971, 0.98], [-2.868, 0.92], [-2.781, 0.94], [-2.722, 1.03], [-2.605, 1.04], [-2.518, 1.13], [-2.43, 0.98], [-2.371, 0.96], [-2.313, 1.1], [-2.225, 1.04], [-2.137, 1.11], [-2.05, 0.94], [-1.991, 1.01]];
const FV_BREAKS = [7.5e-4, 2.04e-2];
const FV_SLOPES = ['-1.06', '-1.43'];

// axis ticks
const X_MAJOR = [1e-4, 1e-3, 1e-2, 1e-1];
const X_MINOR = [
  3e-5, 4e-5, 5e-5, 6e-5, 7e-5, 8e-5, 9e-5, 2e-4, 3e-4, 4e-4, 5e-4, 6e-4, 7e-4, 8e-4, 9e-4,
  2e-3, 3e-3, 4e-3, 5e-3, 6e-3, 7e-3, 8e-3, 9e-3, 2e-2, 3e-2, 4e-2, 5e-2, 6e-2, 7e-2, 8e-2, 9e-2,
];
const Y_TICKS_B = [1e-2, 1, 1e2, 1e4, 1e6, 1e8];
const Y_TICKS_V = [1, 1e2, 1e4, 1e6, 1e8];

const COLORS = {
  AS1: { main: '#0a0aff', light: '#bdbdf9', mid: '#5858f4' },
  AS2: { main: '#14baf3', light: '#c4eaf8', mid: '#4cc6f2' },
  AS3: { main: '#0b0b80', light: '#c8c8e2', mid: '#5050b2' },
  F: { main: '#ff1010', light: '#f8c2c2', mid: '#ee5050' },
};

// layout
const FONT = '"Liberation Serif", "DejaVu Serif", serif';
const COL_X = [132, 714];
const ROW_Y = [32, 456, 881, 1305];
const PW = 458;
const PH = 344;
const YW = 80;
const MT = 30;
const MR = 10;
const XH = 50;

const pts = (a: P[]) => a.map(([lf, lp]) => ({ f: 10 ** lf, p: 10 ** lp }));
const bandPts = (a: B[]) => a.map(([lf, lo, hi]) => ({ f: 10 ** lf, band: [10 ** lo, 10 ** hi] }));

const PANELS = [
  { row: 0, col: 0, kind: 'B', tag: 'AS1, B', c: COLORS.AS1, fit: [AS1B_FIT], gray: AS1B_GRAY, band: AS1B_BAND, line: AS1B_LINE, lband: AS1B_LBAND, comp: [AS1B_C1, AS1B_C2, AS1B_C3], breaks: AS1B_BREAKS, slopes: AS1B_SLOPES, pos: [[98, 44], [208, 79], [393, 155]], tagPos: [435, 34] },
  { row: 0, col: 1, kind: 'V', tag: 'AS1, V', c: COLORS.AS1, fit: [AS1V_FIT], gray: AS1V_GRAY, band: AS1V_BAND, line: AS1V_LINE, lband: AS1V_LBAND, comp: [AS1V_C1, AS1V_C2, AS1V_C3], breaks: AS1V_BREAKS, slopes: AS1V_SLOPES, pos: [[98, 44], [207, 86], [399, 148]], tagPos: [433, 34] },
  { row: 1, col: 0, kind: 'B', tag: 'AS2, B', c: COLORS.AS2, fit: [AS2B_FIT], gray: AS2B_GRAY, band: AS2B_BAND, line: AS2B_LINE, lband: AS2B_LBAND, comp: [AS2B_C1, AS2B_C2, AS2B_C3], breaks: AS2B_BREAKS, slopes: AS2B_SLOPES, pos: [[99, 38], [231, 79], [391, 148]], tagPos: [434, 35] },
  { row: 1, col: 1, kind: 'V', tag: 'AS2, V', c: COLORS.AS2, fit: [AS2V_FIT], gray: AS2V_GRAY, band: AS2V_BAND, line: AS2V_LINE, lband: AS2V_LBAND, comp: [AS2V_C1, AS2V_C2, AS2V_C3], breaks: AS2V_BREAKS, slopes: AS2V_SLOPES, pos: [[99, 38], [231, 92], [399, 148]], tagPos: [433, 35] },
  { row: 2, col: 0, kind: 'B', tag: 'AS3, B', c: COLORS.AS3, fit: [AS3B_FIT], gray: AS3B_GRAY, band: AS3B_BAND, line: AS3B_LINE, lband: AS3B_LBAND, comp: [AS3B_C1, AS3B_C2, AS3B_C3], breaks: AS3B_BREAKS, slopes: AS3B_SLOPES, pos: [[81, 27], [208, 65], [391, 155]], tagPos: [434, 33] },
  { row: 2, col: 1, kind: 'V', tag: 'AS3, V', c: COLORS.AS3, fit: [AS3V_FIT], gray: AS3V_GRAY, band: AS3V_BAND, line: AS3V_LINE, lband: AS3V_LBAND, comp: [AS3V_C1, AS3V_C2, AS3V_C3], breaks: AS3V_BREAKS, slopes: AS3V_SLOPES, pos: [[80, 37], [208, 78], [399, 165]], tagPos: [433, 33] },
  { row: 3, col: 0, kind: 'B', tag: 'F, B', c: COLORS.F, fit: [FB_FIT1, FB_FIT2], gray: FB_GRAY, band: FB_BAND, line: FB_LINE, lband: FB_LBAND, comp: [FB_C1, FB_C2, FB_C3], breaks: FB_BREAKS, slopes: FB_SLOPES, pos: [[117, 45], [276, 96], [400, 148]], tagPos: [433, 33] },
  { row: 3, col: 1, kind: 'V', tag: 'F, V', c: COLORS.F, fit: [FV_FIT1, FV_FIT2], gray: FV_GRAY, band: FV_BAND, line: FV_LINE, lband: FV_LBAND, comp: [FV_C1, FV_C2], breaks: FV_BREAKS, slopes: FV_SLOPES, pos: [[117, 45], [277, 106]], tagPos: [433, 33] },
];

const sup = (s: string) => <span style={{ fontSize: '0.68em', verticalAlign: '0.55em', lineHeight: 0 }}>{s}</span>;

const XTick = (props: any) => {
  const { x, payload } = props;
  const v = payload.value as number;
  const e = Math.round(Math.log10(v));
  const major = Math.abs(Math.log10(v) - e) < 1e-6;
  const y0 = MT + PH;
  return (
    <g>
      <line x1={x} x2={x} y1={y0} y2={y0 - (major ? 8 : 4.5)} stroke="#000" strokeWidth={1} />
      {major && (
        <text x={x} y={y0 + 29} textAnchor="middle" fontFamily={FONT} fontSize={28} fill="#000">
          10<tspan dy={-11} fontSize={19}>{'\u2212' + Math.abs(e)}</tspan>
        </text>
      )}
    </g>
  );
};

const makeYTick = (lo: number, hi: number) => (props: any) => {
  const { y, payload } = props;
  const v = payload.value as number;
  const e = Math.round(Math.log10(v));
  const border = v <= lo || v >= hi;
  const es = e < 0 ? '\u2212' + Math.abs(e) : String(e);
  return (
    <g>
      {!border && <line x1={YW} x2={YW + 6} y1={y} y2={y} stroke="#000" strokeWidth={1} />}
      <text x={YW - 6} y={y + 12} textAnchor="end" fontFamily={FONT} fontSize={28} fill="#000">
        10<tspan dy={-11} fontSize={19}>{es}</tspan>
      </text>
    </g>
  );
};

function Panel({ cfg }: { cfg: (typeof PANELS)[number] }) {
  const left = COL_X[cfg.col];
  const top = ROW_Y[cfg.row];
  const isB = cfg.kind === 'B';
  const yDom: [number, number] = isB ? [1e-2, 1e8] : [1, 1e9];
  const refVal = isB ? 0.1 : 10;
  const compColors = [cfg.c.light, cfg.c.mid, cfg.c.mid];
  const compWidths = [3, 1.3, 1.3];
  return (
    <>
      <div style={{ position: 'absolute', left: left - YW, top: top - MT }}>
        <ComposedChart width={YW + PW + MR} height={MT + PH + XH} margin={{ top: MT, right: MR, bottom: 0, left: 0 }}>
          <CartesianGrid vertical={false} stroke="#dcdcf7" />
          <XAxis
            dataKey="f" type="number" scale="log" domain={[2e-5, 0.2]} allowDataOverflow
            ticks={[...X_MAJOR, ...X_MINOR]} interval={0} axisLine={false} tickLine={false}
            tickSize={0} tickMargin={0} height={XH} tick={(p: any) => <XTick {...p} />}
          />
          <YAxis
            type="number" scale="log" domain={yDom} allowDataOverflow
            ticks={isB ? Y_TICKS_B : Y_TICKS_V} interval={0} axisLine={false} tickLine={false}
            width={YW} tick={makeYTick(yDom[0], yDom[1])}
          />
          {cfg.breaks.map((b, i) => (
            <ReferenceLine key={'b' + i} x={b} stroke="#b9b9c3" strokeWidth={1} />
          ))}
          <ReferenceLine y={refVal} stroke="#a5553f" strokeWidth={1.1} />
          <Area data={bandPts(cfg.band)} dataKey="band" stroke="none" fill="#c9c9c9" fillOpacity={0.75} isAnimationActive={false} dot={false} activeDot={false} />
          <Line data={pts(cfg.gray)} dataKey="p" stroke="#c2c2c2" strokeWidth={1} dot={false} activeDot={false} isAnimationActive={false} />
          <Area data={bandPts(cfg.lband)} dataKey="band" stroke="none" fill={cfg.c.main} fillOpacity={0.9} isAnimationActive={false} dot={false} activeDot={false} />
          <Line data={pts(cfg.line)} dataKey="p" stroke={cfg.c.main} strokeWidth={1.6} dot={false} activeDot={false} isAnimationActive={false} />
          {cfg.fit.map((s, i) => (
            <Line key={'fit' + i} data={pts(s)} dataKey="p" stroke="#33c633" strokeWidth={3.6} dot={false} activeDot={false} isAnimationActive={false} />
          ))}
          {cfg.comp.map((s, i) => (
            <Line key={'c' + i} data={pts(s)} dataKey="p" stroke={compColors[i]} strokeWidth={compWidths[i]} dot={false} activeDot={false} isAnimationActive={false} />
          ))}
        </ComposedChart>
      </div>
      <div style={{ position: 'absolute', left, top, width: PW, height: PH, border: '1.6px solid #000', boxSizing: 'border-box', pointerEvents: 'none' }} />
      {cfg.slopes.map((s, i) => (
        <div key={s + i} style={{ position: 'absolute', left: left + cfg.pos[i][0], top: top + cfg.pos[i][1], transform: 'translate(-50%, -50%)', fontFamily: FONT, fontSize: 23, lineHeight: 1, whiteSpace: 'nowrap' }}>
          {s}
        </div>
      ))}
      <div style={{ position: 'absolute', left: left + cfg.tagPos[0], top: top + cfg.tagPos[1], transform: 'translate(-100%, -50%)', fontFamily: FONT, fontSize: 23, lineHeight: 1, whiteSpace: 'nowrap' }}>
        {cfg.tag}
      </div>
      <div style={{ position: 'absolute', left: cfg.col === 0 ? 44 : 644, top: top + PH / 2, transform: 'translate(-50%, -50%) rotate(-90deg)', fontFamily: FONT, fontSize: 36, lineHeight: 1, whiteSpace: 'nowrap' }}>
        {isB ? <>PSD (nT{sup('2')} Hz{sup('\u22121')})</> : <>PSD (km{sup('2')} Hz)</>}
      </div>
    </>
  );
}

export default function App() {
  return (
    <div style={{ position: 'absolute', left: 0, top: 0, width: 1200, height: 1739, background: '#fff', overflow: 'hidden' }}>
      {PANELS.map((p) => (
        <Panel key={p.tag} cfg={p} />
      ))}
      {COL_X.map((x) => (
        <div key={x} style={{ position: 'absolute', left: x + PW / 2, top: 1706, transform: 'translate(-50%, -50%)', fontFamily: FONT, fontSize: 36, lineHeight: 1, whiteSpace: 'nowrap' }}>
          <span style={{ fontStyle: 'italic' }}>f</span> (Hz)
        </div>
      ))}
    </div>
  );
}
